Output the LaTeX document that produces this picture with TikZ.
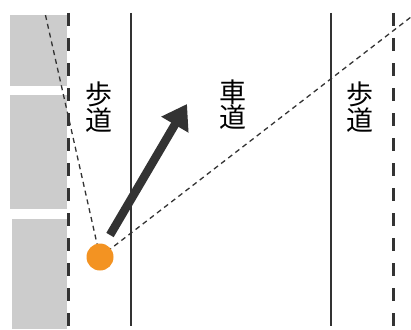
\documentclass[tikz,border=0pt]{standalone}
\usepackage{fontspec}
\newfontfamily\cjk{Noto Sans CJK JP}
\usetikzlibrary{arrows.meta}
\definecolor{bldg}{HTML}{CCCCCC}
\definecolor{ink}{HTML}{333333}
\definecolor{walker}{HTML}{F39322}
\tikzset{
  bldgbox/.style={fill=bldg, draw=none},
  curbline/.style={draw=ink, line width=3pt, dash pattern=on 13pt off 12pt},
  laneline/.style={draw=ink, line width=2.2pt},
  sightline/.style={draw=ink, line width=1.3pt, dash pattern=on 5pt off 4pt},
  vlabel/.style={font=\cjk\fontsize{27}{25}\selectfont, align=center, text=black, inner sep=0pt},
  moveArrow/.style={draw=ink, line width=8.5pt, -{Triangle[length=24pt,width=30pt]}}
}
\begin{document}
\begin{tikzpicture}[x=1pt,y=-1pt]
\useasboundingbox (0,0) rectangle (411,329);
\fill[white] (0,0) rectangle (411,329);
% buildings
\path[bldgbox] (10,15) rectangle (67,86);
\path[bldgbox] (10,95) rectangle (67,209);
\path[bldgbox] (12,219) rectangle (67,329);
% lines
\coordinate (c1t) at (68,13); \coordinate (c1b) at (68,329);
\coordinate (l1t) at (131,13); \coordinate (l1b) at (131,326);
\coordinate (l2t) at (331,13); \coordinate (l2b) at (331,326);
\coordinate (c2t) at (393,13); \coordinate (c2b) at (393,329);
\draw[curbline] (c1t) -- (c1b);
\draw[laneline] (l1t) -- (l1b);
\draw[laneline] (l2t) -- (l2b);
\draw[curbline] (c2t) -- (c2b);
% walker
\node[circle, minimum size=27pt, inner sep=0pt] (p) at (100,257) {};
\coordinate (s1) at (45,13);
\coordinate (s2) at (411,17);
\draw[sightline] (p.center) -- (s1);
\draw[sightline] (p.center) -- (s2);
\fill[walker] (p.center) circle[radius=13.5pt];
\coordinate (a0) at (110,235);
\coordinate (a1) at (187,104);
\draw[moveArrow] (a0) -- (a1);
% labels
\node[vlabel] (t1) at (99,107) {歩\\道};
\node[vlabel] (t2) at (233,105) {車\\道};
\node[vlabel] (t3) at (360,107) {歩\\道};
\end{tikzpicture}
\end{document}
